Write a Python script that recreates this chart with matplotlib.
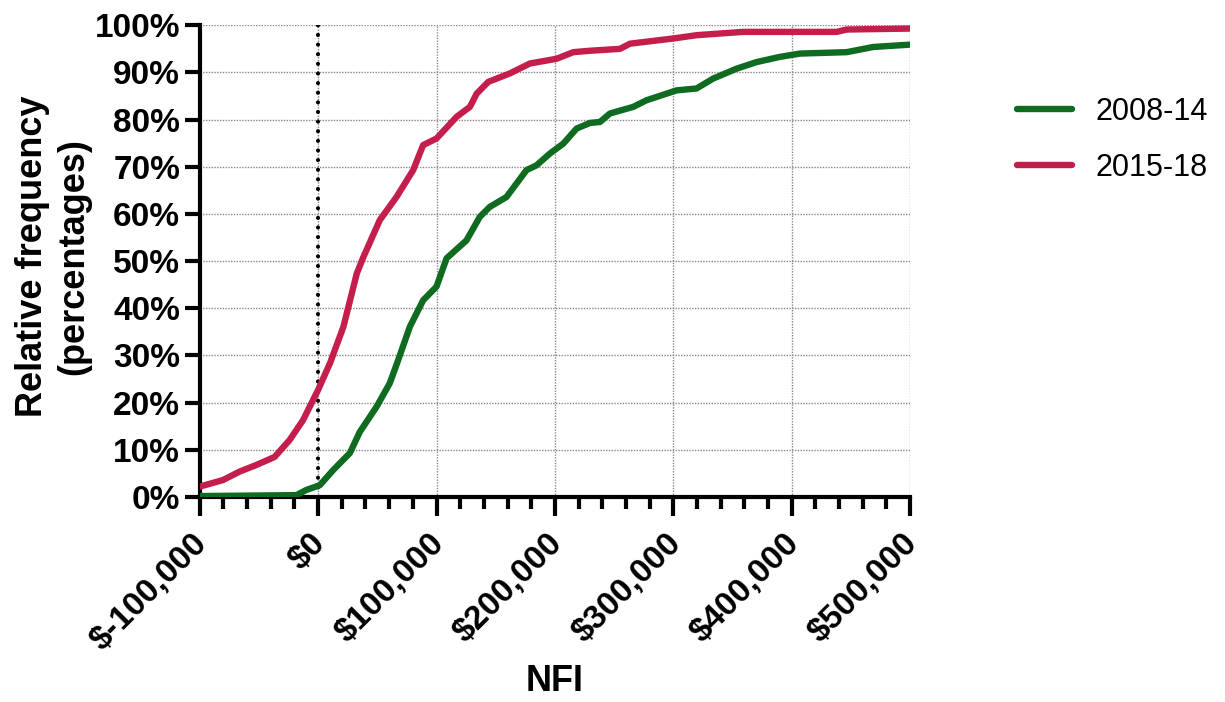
import matplotlib
matplotlib.use("Agg")
import matplotlib.pyplot as plt
from matplotlib.ticker import MultipleLocator, FuncFormatter
from matplotlib.transforms import ScaledTranslation

plt.rcParams["font.family"] = ["Liberation Sans", "DejaVu Sans"]

# cumulative relative frequency (%) vs NFI ($)
nfi_1518 = [-100000, -80300, -66200, -52100, -36700, -24000, -12700, 0, 10100,
            21400, 27000, 32700, 38300, 52100, 66200, 80300, 88700, 100000,
            117000, 128200, 133900, 143700, 162000, 178900, 201400, 215500,
            229600, 254900, 263400, 300000, 319700, 359000, 438000, 446400,
            500000]
freq_1518 = [2.2, 3.6, 5.4, 6.8, 8.5, 12.1, 16.3, 22.7, 28.4, 36.1, 41.7, 47.4,
             50.9, 58.7, 63.6, 69.3, 74.6, 76.0, 80.6, 82.7, 85.5, 88.0, 89.8,
             91.9, 92.9, 94.3, 94.6, 95.0, 96.1, 97.2, 97.9, 98.6, 98.6, 99.1,
             99.3]

nfi_0814 = [-100000, -18300, -9900, 1400, 12700, 26800, 35200, 49300, 60500,
            67600, 77500, 88700, 100000, 108500, 125300, 136600, 145000,
            159100, 176000, 184400, 195700, 207000, 218300, 229600, 238000,
            246500, 266100, 277300, 302700, 319600, 333600, 353400, 370300,
            390000, 406900, 446400, 468800, 500000]
freq_0814 = [0.2, 0.4, 1.5, 2.5, 5.7, 9.3, 13.8, 19.1, 24.1, 29.0, 36.1, 41.7,
             44.6, 50.6, 54.4, 59.4, 61.5, 63.6, 69.3, 70.3, 72.8, 74.9, 78.1,
             79.3, 79.5, 81.3, 82.7, 84.1, 86.2, 86.6, 88.7, 90.8, 92.2, 93.3,
             94.0, 94.3, 95.4, 95.9]

x_ticks = [-100000, 0, 100000, 200000, 300000, 400000, 500000]
x_labels = ["$-100,000", "$0", "$100,000", "$200,000", "$300,000",
            "$400,000", "$500,000"]

GREEN = "#0f6b1f"
RED = "#c41e4c"

fig = plt.figure(figsize=(12.25, 7.02), dpi=100)
ax = fig.add_axes([0.163, 0.292, 0.58, 0.672])

ax.plot(nfi_0814, freq_0814, color=GREEN, lw=4.6, label="2008-14",
        solid_capstyle="round", solid_joinstyle="round", zorder=3)
ax.plot(nfi_1518, freq_1518, color=RED, lw=4.6, label="2015-18",
        solid_capstyle="round", solid_joinstyle="round", zorder=3)
ax.axvline(0, color="black", lw=3, linestyle=(0, (0.01, 2.3)),
           dash_capstyle="round", zorder=2)

ax.set_xlim(-100000, 500000)
ax.set_ylim(0, 100)
ax.set_xticks(x_ticks)
ax.set_xticklabels(x_labels, rotation=45, ha="right", va="top",
                   rotation_mode="anchor", fontsize=24, fontweight="bold")
ax.xaxis.set_minor_locator(MultipleLocator(20000))
ax.yaxis.set_major_locator(MultipleLocator(10))
ax.yaxis.set_major_formatter(FuncFormatter(lambda v, _: f"{v:.0f}%"))
for lab in ax.get_yticklabels():
    lab.set_fontsize(24)
    lab.set_fontweight("bold")

ax.tick_params(axis="x", which="major", length=14, width=3, pad=8)
ax.tick_params(axis="x", which="minor", length=8.5, width=3)
ax.tick_params(axis="y", which="major", length=11, width=3, pad=3)
ax.grid(True, which="major", color="#888888", linestyle=(0, (1, 1)), lw=1)

# nudge the rotated x labels a little left (after tick_params, which resets them)
shift = ScaledTranslation(-8 / 100, 0, fig.dpi_scale_trans)
for lab in ax.xaxis.get_majorticklabels():
    lab.set_transform(lab.get_transform() + shift)

for side in ("top", "right"):
    ax.spines[side].set_visible(False)
for side in ("left", "bottom"):
    ax.spines[side].set_linewidth(3)
ax.set_axisbelow(True)

ax.set_xlabel("NFI", fontsize=26, fontweight="bold")
ax.xaxis.set_label_coords(0.5, -0.354)
ax.set_ylabel("Relative frequency\n(percentages)", fontsize=26,
              fontweight="bold", linespacing=1.25)
ax.yaxis.set_label_coords(-0.152, 0.51)

ax.legend(loc="upper left", bbox_to_anchor=(1.111, 0.907), frameon=False,
          fontsize=22, handlelength=1.8, handletextpad=0.8, labelspacing=0.85)

fig.savefig("out.png", dpi=100)
